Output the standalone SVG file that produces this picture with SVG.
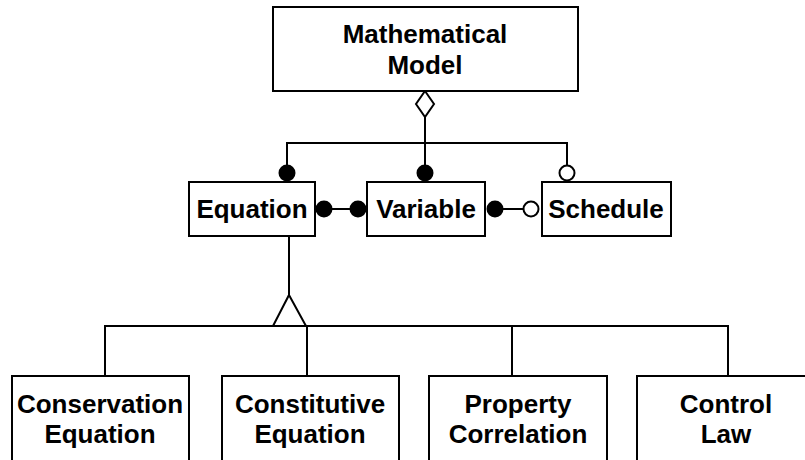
<svg xmlns="http://www.w3.org/2000/svg" width="805" height="460" viewBox="0 0 805 460">
<style>
.box{fill:#fff;stroke:#000;stroke-width:2}
.ln{fill:none;stroke:#000;stroke-width:2}
.dot{fill:#000;stroke:#000;stroke-width:2}
.odot{fill:#fff;stroke:#000;stroke-width:2}
text{font-family:"Liberation Sans",Arial,sans-serif;font-weight:bold;font-size:26px;text-anchor:middle;fill:#000}
</style>
<rect width="805" height="460" fill="#fff"/>
<g id="connectors">
<path class="ln" d="M425,117 V173 M287,173 V143 H567 V173"/>
<path class="box" d="M425,91 L434,104 L425,117 L416,104 Z"/>
<path class="ln" d="M324,209 H358 M495,209 H531"/>
<path class="ln" d="M289,236 V295 M105,376 V326 H728 V376 M307,326 V376 M512,326 V376"/>
<path class="box" d="M289,295 L306,326 L273,326 Z"/>
</g>
<g id="mathematical-model">
<rect class="box" x="273" y="7" width="305" height="84"/>
<text x="425" y="43">Mathematical</text>
<text x="425" y="74">Model</text>
</g>
<g id="equation">
<rect class="box" x="189" y="182" width="126" height="54"/>
<text x="252" y="218">Equation</text>
</g>
<g id="variable">
<rect class="box" x="367" y="182" width="118" height="54"/>
<text x="426" y="218">Variable</text>
</g>
<g id="schedule">
<rect class="box" x="542" y="182" width="129" height="54"/>
<text x="606" y="218">Schedule</text>
</g>
<g id="ends">
<circle class="dot" cx="287" cy="173" r="7.5"/>
<circle class="dot" cx="425" cy="173" r="7.5"/>
<circle class="odot" cx="567" cy="173" r="7.5"/>
<circle class="dot" cx="324" cy="209" r="7.5"/>
<circle class="dot" cx="358" cy="209" r="7.5"/>
<circle class="dot" cx="495" cy="209" r="7.5"/>
<circle class="odot" cx="531" cy="209" r="7.5"/>
</g>
<g id="conservation-equation">
<rect class="box" x="12" y="376" width="177" height="100"/>
<text x="100" y="413">Conservation</text>
<text x="100" y="443">Equation</text>
</g>
<g id="constitutive-equation">
<rect class="box" x="222" y="376" width="177" height="100"/>
<text x="310" y="413">Constitutive</text>
<text x="310" y="443">Equation</text>
</g>
<g id="property-correlation">
<rect class="box" x="429" y="376" width="178" height="100"/>
<text x="518" y="413">Property</text>
<text x="518" y="443">Correlation</text>
</g>
<g id="control-law">
<rect class="box" x="637" y="376" width="178" height="100"/>
<text x="726" y="413">Control</text>
<text x="726" y="443">Law</text>
</g>
</svg>
